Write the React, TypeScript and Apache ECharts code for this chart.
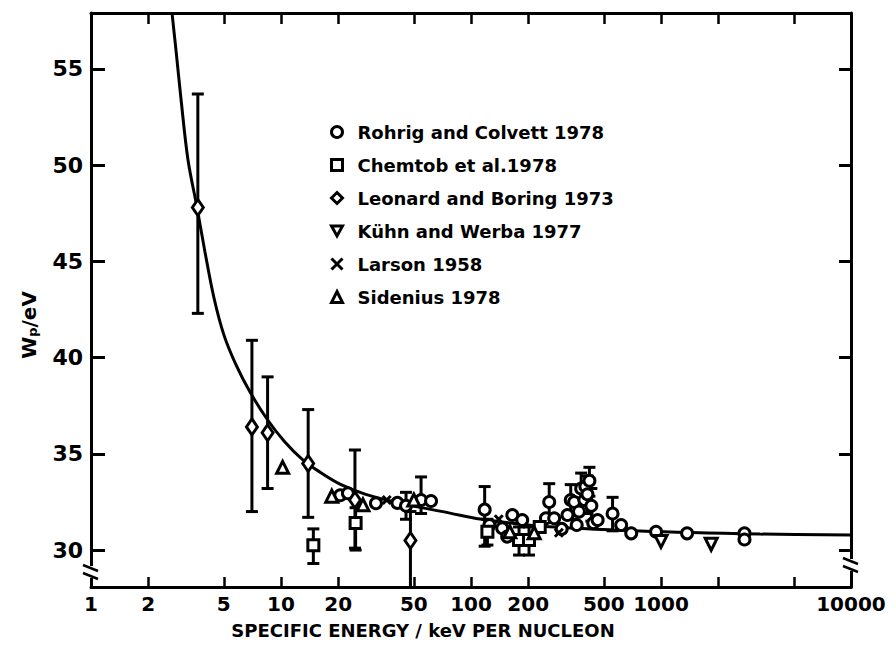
import React, { useEffect, useRef } from 'react';
import * as echarts from 'echarts';

const FONT = 'DejaVu Sans';

// Axis ticks / labels
const X_TICKS = [1, 2, 5, 10, 20, 50, 100, 200, 500, 1000, 2000, 5000, 10000];
const X_LABELS = [1, 2, 5, 10, 20, 50, 100, 200, 500, 1000, 10000];
const Y_TICKS = [30, 35, 40, 45, 50, 55];

// Fitted curve (keV per nucleon, eV)
const CURVE_E = [2.67, 2.8, 2.98, 3.24, 3.61, 3.98, 4.44, 5.01, 5.8, 6.87, 8.44, 10.37, 12.9, 16.04, 20.44, 27.68, 42.3, 77.5, 111.5, 230.8, 775, 3320, 10000];
const CURVE_W = [57.9, 55.99, 53.39, 50.27, 47.83, 45.49, 43.1, 41.17, 39.62, 38.21, 36.81, 35.67, 34.73, 34.05, 33.43, 32.91, 32.44, 31.92, 31.61, 31.25, 30.99, 30.83, 30.78];

// Rohrig and Colvett 1978 (circles)
const ROHRIG_E = [20.5, 22.5, 31.6, 41, 45.5, 54.6, 61.6, 118, 125, 146, 155, 165, 186, 248, 258, 274, 300, 322, 335, 349, 360, 370, 380, 395, 400, 410, 420, 430, 440, 464, 556, 617, 697, 942, 1372, 2750, 2750];
const ROHRIG_W = [32.85, 32.95, 32.43, 32.45, 32.3, 32.6, 32.55, 32.1, 31.3, 31.13, 30.7, 31.82, 31.56, 31.65, 32.5, 31.65, 31.1, 31.82, 32.6, 32.5, 31.3, 32.0, 33.2, 32.6, 33.3, 32.9, 33.6, 32.3, 31.4, 31.56, 31.9, 31.3, 30.87, 30.95, 30.87, 30.87, 30.55];
const ROHRIG_LO = [null, null, null, null, 31.6, 31.9, null, 30.2, null, null, null, null, null, null, 31.6, null, null, null, 31.6, null, null, null, 32.3, null, null, 31.9, 32.8, 31.5, null, null, 31.0, null, null, null, null, null, null];
const ROHRIG_HI = [null, null, null, null, 33.0, 33.8, null, 33.3, null, null, null, null, null, null, 33.45, null, null, null, 33.4, null, null, null, 34.0, null, null, 33.85, 34.3, 33.2, null, null, 32.74, null, null, null, null, null, null];

// Chemtob et al. 1978 (squares)
const CHEMTOB_E = [14.8, 24.7, 122, 179, 202, 230];
const CHEMTOB_W = [30.25, 31.4, 30.95, 30.52, 30.52, 31.2];
const CHEMTOB_LO = [29.3, 30.0, 30.26, 29.74, 29.74, null];
const CHEMTOB_HI = [31.1, 32.2, 31.6, 31.2, 31.2, null];

// Leonard and Boring 1973 (diamonds)
const LEONARD_E = [3.65, 7.03, 8.5, 13.9, 24.5, 48];
const LEONARD_W = [47.8, 36.4, 36.1, 34.5, 32.6, 30.5];
const LEONARD_LO = [42.3, 32.0, 33.2, 31.7, 30.1, 27];
const LEONARD_HI = [53.7, 40.9, 39.0, 37.3, 35.2, 32.0];

// Kühn and Werba 1977 (inverted triangles)
const KUHN_E = [1000, 1837];
const KUHN_W = [30.45, 30.3];

// Larson 1958 (crosses)
const LARSON_E = [36, 140, 290];
const LARSON_W = [32.6, 31.6, 30.9];

// Sidenius 1978 (triangles)
const SIDENIUS_E = [10.2, 18.5, 27, 50, 160, 215];
const SIDENIUS_W = [34.3, 32.8, 32.35, 32.6, 30.95, 30.9];

const NAMES = [
  'Rohrig and Colvett 1978',
  'Chemtob et al.1978',
  'Leonard and Boring 1973',
  'Kühn and Werba 1977',
  'Larson 1958',
  'Sidenius 1978',
];

const INV_TRI = 'path://M0,0L10,0L5,9Z';
const CROSS = 'path://M0,0L10,10M10,0L0,10';

function pts(e: number[], w: number[]) {
  return e.map((v, i) => [v, w[i]]);
}
function bars(e: number[], lo: (number | null)[], hi: (number | null)[]) {
  const out: number[][] = [];
  e.forEach((v, i) => {
    if (lo[i] != null && hi[i] != null) out.push([v, lo[i] as number, hi[i] as number]);
  });
  return out;
}

export default function App() {
  const ref = useRef<HTMLDivElement>(null);
  useEffect(() => {
    document.body.style.margin = '0';
    const chart = echarts.init(ref.current!, null, { renderer: 'svg' });

    const markerStyle = { color: '#ffffff', borderColor: '#000000', borderWidth: 3, opacity: 1 };
    const scatter = (name: string, data: number[][], symbol: string, size: any) => ({
      name,
      type: 'scatter',
      data,
      symbol,
      symbolSize: size,
      itemStyle: markerStyle,
      emphasis: { disabled: true },
      z: 5,
    });

    const errorBar = (data: number[][]) => ({
      type: 'custom',
      data,
      clip: true,
      z: 3,
      silent: true,
      encode: { x: 0, y: [1, 2] },
      renderItem: (params: any, api: any) => {
        const x = api.value(0);
        const p1 = api.coord([x, api.value(1)]);
        const p2 = api.coord([x, api.value(2)]);
        const cw = 6;
        const style = { stroke: '#000', lineWidth: 3 };
        return {
          type: 'group',
          children: [
            { type: 'line', shape: { x1: p1[0], y1: p1[1], x2: p2[0], y2: p2[1] }, style },
            { type: 'line', shape: { x1: p1[0] - cw, y1: p1[1], x2: p1[0] + cw, y2: p1[1] }, style },
            { type: 'line', shape: { x1: p2[0] - cw, y1: p2[1], x2: p2[0] + cw, y2: p2[1] }, style },
          ],
        };
      },
    });

    const axisLine = { show: true, lineStyle: { color: '#000', width: 3 } };
    const xFmt = (v: number) => String(Math.round(v));

    const GL = 91, GR = 45, GT = 13, GB = 68;
    const W = 896;
    const xr = W - GR;

    const breakMark = (cx: number, cy: number) => [
      { type: 'rect', shape: { x: cx - 6, y: cy - 6, width: 12, height: 12 }, style: { fill: '#fff' }, z: 100 },
      { type: 'line', shape: { x1: cx - 8, y1: cy - 7, x2: cx + 7, y2: cy - 1 }, style: { stroke: '#000', lineWidth: 2.5 }, z: 101 },
      { type: 'line', shape: { x1: cx - 8, y1: cy + 1, x2: cx + 7, y2: cy + 7 }, style: { stroke: '#000', lineWidth: 2.5 }, z: 101 },
    ];

    chart.setOption({
      animation: false,
      backgroundColor: '#fff',
      textStyle: { fontFamily: FONT },
      grid: { left: GL, right: GR, top: GT, bottom: GB },
      legend: {
        orient: 'vertical',
        left: 325,
        top: 118,
        itemWidth: 11,
        itemHeight: 11,
        itemGap: 15,
        data: [
          { name: NAMES[0], icon: 'circle' },
          { name: NAMES[1], icon: 'rect' },
          { name: NAMES[2], icon: 'diamond' },
          { name: NAMES[3], icon: INV_TRI },
          { name: NAMES[4], icon: CROSS },
          { name: NAMES[5], icon: 'triangle' },
        ],
        itemStyle: { color: '#ffffff', borderColor: '#000000', borderWidth: 3, opacity: 1 },
        textStyle: { fontFamily: FONT, fontSize: 18, fontWeight: 'bold', color: '#000', padding: [0, 0, 0, 10] },
      },
      xAxis: [
        {
          type: 'log',
          logBase: 10,
          min: 1,
          max: 10000,
          position: 'bottom',
          axisLine,
          axisTick: { show: true, inside: true, length: 10, lineStyle: { color: '#000', width: 2.5 }, customValues: X_TICKS },
          axisLabel: { show: true, customValues: X_LABELS, formatter: xFmt, fontFamily: FONT, fontSize: 20, fontWeight: 'bold', color: '#000', margin: 7 },
          splitLine: { show: false },
          minorTick: { show: false },
          name: 'SPECIFIC ENERGY / keV PER NUCLEON',
          nameLocation: 'middle',
          nameGap: 34,
          nameTextStyle: { fontFamily: FONT, fontSize: 18, fontWeight: 'bold', color: '#000', padding: [0, 96, 0, 0] },
        },
        {
          type: 'log',
          logBase: 10,
          min: 1,
          max: 10000,
          position: 'top',
          axisLine,
          axisTick: { show: true, inside: true, length: 11, lineStyle: { color: '#000', width: 2.5 }, customValues: X_TICKS },
          axisLabel: { show: false },
          splitLine: { show: false },
        },
      ],
      yAxis: [
        {
          type: 'value',
          min: 28.08,
          max: 57.91,
          position: 'left',
          axisLine,
          axisTick: { show: true, inside: true, length: 14, lineStyle: { color: '#000', width: 3 }, customValues: Y_TICKS },
          axisLabel: { show: true, customValues: Y_TICKS, fontFamily: FONT, fontSize: 22, fontWeight: 'bold', color: '#000', margin: 8 },
          splitLine: { show: false },
          name: '{w|W}{p|p}{w|/eV}',
          nameLocation: 'middle',
          nameGap: 52,
          nameRotate: 90,
          nameTextStyle: {
            padding: [0, 50, 0, 0],
            rich: {
              w: { fontFamily: FONT, fontSize: 20, fontWeight: 'bold', color: '#000' },
              p: { fontFamily: FONT, fontSize: 13, fontWeight: 'bold', color: '#000', verticalAlign: 'bottom', padding: [8, 0, 0, 0] },
            },
          },
        },
        {
          type: 'value',
          min: 28.08,
          max: 57.91,
          position: 'right',
          axisLine,
          axisTick: { show: true, inside: true, length: 12, lineStyle: { color: '#000', width: 3 }, customValues: Y_TICKS },
          axisLabel: { show: false },
          splitLine: { show: false },
        },
      ],
      series: [
        errorBar(bars(LEONARD_E, LEONARD_LO, LEONARD_HI)),
        errorBar(bars(CHEMTOB_E, CHEMTOB_LO, CHEMTOB_HI)),
        errorBar(bars(ROHRIG_E, ROHRIG_LO, ROHRIG_HI)),
        {
          type: 'line',
          data: pts(CURVE_E, CURVE_W),
          showSymbol: false,
          smooth: 0.35,
          silent: true,
          lineStyle: { color: '#000', width: 3 },
          z: 4,
        },
        scatter(NAMES[0], pts(ROHRIG_E, ROHRIG_W), 'circle', 11),
        scatter(NAMES[1], pts(CHEMTOB_E, CHEMTOB_W), 'rect', 11),
        scatter(NAMES[2], pts(LEONARD_E, LEONARD_W), 'diamond', [11, 16]),
        scatter(NAMES[3], pts(KUHN_E, KUHN_W), INV_TRI, 12),
        scatter(NAMES[4], pts(LARSON_E, LARSON_W), CROSS, 8),
        scatter(NAMES[5], pts(SIDENIUS_E, SIDENIUS_W), 'triangle', 12),
      ],
      graphic: [
        ...breakMark(GL, 572),
        ...breakMark(xr, 565),
      ],
    });
    return () => chart.dispose();
  }, []);
  return <div ref={ref} style={{ width: 896, height: 655 }} />;
}
